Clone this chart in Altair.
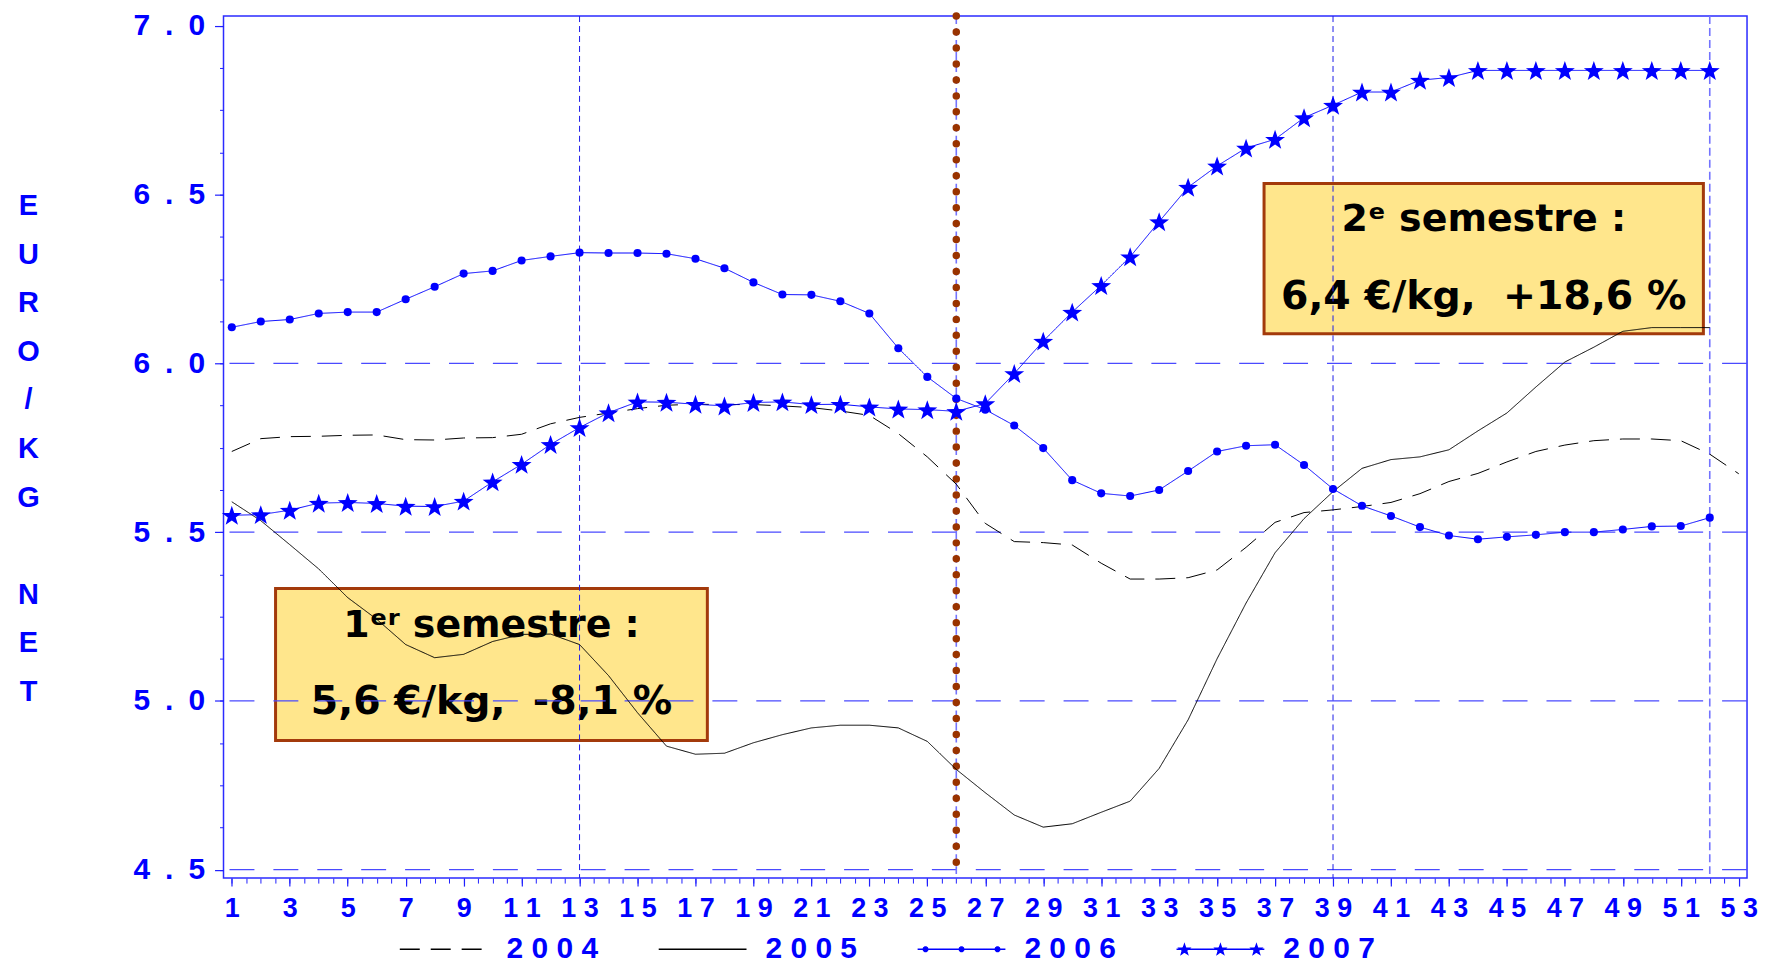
import math
import altair as alt
import pandas as pd

# ---------------- data ----------------
years = ["2004", "2005", "2006", "2007"]
weeks_2004 = list(range(1, 54))
weeks = list(range(1, 53))

prices_2004 = [5.739, 5.777, 5.783, 5.784, 5.787, 5.788, 5.774, 5.773, 5.779, 5.780,
               5.790, 5.821, 5.840, 5.853, 5.866, 5.876, 5.879, 5.878, 5.878, 5.874,
               5.869, 5.859, 5.846, 5.792, 5.723, 5.642, 5.526, 5.472, 5.469, 5.462,
               5.408, 5.361, 5.361, 5.365, 5.388, 5.455, 5.529, 5.558, 5.566, 5.576,
               5.588, 5.614, 5.650, 5.674, 5.708, 5.739, 5.758, 5.771, 5.776, 5.776,
               5.771, 5.731, 5.673]
prices_2005 = [5.590, 5.534, 5.463, 5.391, 5.306, 5.242, 5.167, 5.128, 5.138, 5.176,
               5.197, 5.198, 5.167, 5.075, 4.965, 4.866, 4.842, 4.845, 4.876, 4.900,
               4.920, 4.928, 4.928, 4.920, 4.880, 4.797, 4.728, 4.662, 4.626, 4.636,
               4.670, 4.703, 4.800, 4.944, 5.125, 5.290, 5.439, 5.540, 5.620, 5.689,
               5.715, 5.723, 5.744, 5.800, 5.853, 5.930, 6.004, 6.048, 6.095, 6.106,
               6.106, 6.106]
prices_2006 = [6.107, 6.124, 6.130, 6.148, 6.152, 6.152, 6.190, 6.227, 6.266, 6.274,
               6.305, 6.317, 6.328, 6.327, 6.327, 6.325, 6.310, 6.282, 6.240, 6.204,
               6.203, 6.184, 6.148, 6.045, 5.960, 5.896, 5.863, 5.816, 5.749, 5.654,
               5.615, 5.607, 5.625, 5.681, 5.739, 5.756, 5.759, 5.699, 5.628, 5.578,
               5.548, 5.515, 5.490, 5.479, 5.486, 5.492, 5.500, 5.500, 5.508, 5.517,
               5.518, 5.543]
prices_2007 = [5.550, 5.552, 5.565, 5.586, 5.588, 5.585, 5.577, 5.576, 5.592, 5.649,
               5.701, 5.760, 5.810, 5.854, 5.886, 5.885, 5.879, 5.874, 5.884, 5.886,
               5.878, 5.879, 5.871, 5.865, 5.863, 5.858, 5.881, 5.970, 6.066, 6.152,
               6.231, 6.316, 6.420, 6.522, 6.585, 6.638, 6.664, 6.728, 6.765, 6.804,
               6.804, 6.839, 6.847, 6.868, 6.868, 6.868, 6.868, 6.868, 6.868, 6.868,
               6.868, 6.868]

ref_prices = [4.5, 5.0, 5.5, 6.0]
ref_weeks_quarter = [13, 39]
ref_weeks_other = [26, 52]
mid_year_week = [26]

x_major_ticks = list(range(1, 54, 2))
x_minor_ticks = [w / 2 for w in range(2, 107)]
y_major_ticks = [4.5, 5.0, 5.5, 6.0, 6.5, 7.0]
y_minor_ticks = [4.5 + 0.125 * i for i in range(21)]

note_titles = ["1ᵉʳ semestre :", "2ᵉ semestre :"]
note_values = ["5,6 €/kg,\u00a0 -8,1 %", "6,4 €/kg,\u00a0 +18,6 %"]
note_week = [9.96, 44.2]
note_title_price = [5.222, 6.426]
note_value_price = [4.996, 6.197]
box_week_from = [2.51, 36.62]
box_week_to = [17.41, 51.78]
box_price_from = [4.883, 6.088]
box_price_to = [5.333, 6.533]

# ---------------- styling ----------------
BLUE = "#0000FF"
line_colors = ["#000000", "#000000", "#0000FF", "#0000FF"]
line_dashes = [[20, 11], [1, 0], [1, 0], [1, 0]]


def poly_dot(cx, r, n=10):
    pts = [(cx + r * math.cos(2 * math.pi * i / n), r * math.sin(2 * math.pi * i / n)) for i in range(n)]
    return "M" + " L".join(f"{x:.4f},{y:.4f}" for x, y in pts) + " Z "


def star_path(cx, R):
    pts = []
    for i in range(10):
        ang = math.radians(-90 + 36 * i)
        rad = R if i % 2 == 0 else R * 0.40
        pts.append((cx + rad * math.cos(ang), rad * math.sin(ang) + 0.1 * R))
    return "M" + " L".join(f"{x:.4f},{y:.4f}" for x, y in pts) + " Z "


STAR_SHAPE = star_path(0.0, 1.0).strip()
base_line = "M-1,0 L1,0 "
legend_paths = [
    base_line.strip(),
    base_line.strip(),
    (base_line + "".join(poly_dot(c, 0.055) for c in (-0.82, 0.0, 0.82))).strip(),
    (base_line + "".join(star_path(c, 0.125) for c in (-0.82, 0.0, 0.82))).strip(),
]

rows = []
for yr, wk, vals in zip(years, [weeks_2004, weeks, weeks, weeks],
                        [prices_2004, prices_2005, prices_2006, prices_2007]):
    for w, v in zip(wk, vals):
        rows.append({"year": yr, "week": w, "price": v})
series = pd.DataFrame(rows)

xs = alt.Scale(domain=[0.714, 53.286], nice=False, zero=False)
ys = alt.Scale(domain=[4.475, 7.029], nice=False, zero=False)
stroke_scale = alt.Scale(domain=years, range=line_colors)
dash_scale = alt.Scale(domain=years, range=line_dashes)

LABEL_FONT = "Liberation Sans"

x_axis_main = alt.Axis(
    values=x_major_ticks, format="d", title=None, orient="bottom", domain=False, grid=False,
    tickSize=8, tickColor="#2020FF", tickWidth=1.2,
    labelFont=LABEL_FONT, labelFontWeight="bold", labelFontSize=27, labelColor=BLUE,
    labelPadding=9, labelOverlap=False, labelFlush=False,
    labelExpr="join(split(datum.label, ''), ' ')",
)
x_axis_minor = alt.Axis(
    values=x_minor_ticks, title=None, orient="bottom", domain=False, grid=False,
    labels=False, tickSize=5, tickColor="#2020FF", tickWidth=1,
)
y_axis_main = alt.Axis(
    values=y_major_ticks, format=".1f", orient="left", domain=False, grid=False,
    tickSize=9, tickColor="#2020FF", tickWidth=1.2,
    labelFont=LABEL_FONT, labelFontWeight="bold", labelFontSize=30, labelColor=BLUE,
    labelPadding=10, labelOverlap=False, labelFlush=False,
    labelExpr="replace(datum.label, '.', '\u2002.\u2002')",
    title=["E", "U", "R", "O", "/", "K", "G", "\u2800", "N", "E", "T"],
    titleAngle=0, titleX=-196, titleY=190, titleAlign="center", titleBaseline="middle",
    titleLineHeight=48.7, titleFont=LABEL_FONT, titleFontWeight="bold",
    titleFontSize=29, titleColor=BLUE,
)
y_axis_minor = alt.Axis(
    values=y_minor_ticks, title=None, orient="left", domain=False, grid=False,
    labels=False, tickSize=4, tickColor="#2020FF", tickWidth=1,
)

legend_obj = alt.Legend(
    title=None, orient="none", legendX=175.7, legendY=890.3,
    direction="horizontal", columns=4, columnPadding=57.5, rowPadding=0, padding=0,
    labelOffset=18, symbolSize=7744, symbolStrokeWidth=1.3, symbolOpacity=1,
    labelFont=LABEL_FONT, labelFontWeight="bold", labelFontSize=30, labelColor=BLUE,
    labelExpr="join(split(datum.label, ''), ' ')",
)

# ---------------- layers ----------------
boxes = alt.Chart(pd.DataFrame({
    "w0": box_week_from, "w1": box_week_to, "p0": box_price_from, "p1": box_price_to,
})).mark_rect(fill="#FFE68C", stroke="#A33A0B", strokeWidth=3).encode(
    x=alt.X("w0:Q", scale=xs, axis=None), x2="w1:Q",
    y=alt.Y("p0:Q", scale=ys, axis=None), y2="p1:Q",
)

note_title_layer = alt.Chart(pd.DataFrame({
    "week": note_week, "price": note_title_price, "text": note_titles,
})).mark_text(font="DejaVu Sans", fontWeight="bold", fontSize=38, color="#000000",
              align="center", baseline="middle").encode(
    x=alt.X("week:Q", scale=xs, axis=None),
    y=alt.Y("price:Q", scale=ys, axis=None),
    text="text:N",
)

note_value_layer = alt.Chart(pd.DataFrame({
    "week": note_week, "price": note_value_price, "text": note_values,
})).mark_text(font="DejaVu Sans", fontWeight="bold", fontSize=39.5, color="#000000",
              align="center", baseline="middle").encode(
    x=alt.X("week:Q", scale=xs, axis=None),
    y=alt.Y("price:Q", scale=ys, axis=None),
    text="text:N",
)

hgrid = alt.Chart(pd.DataFrame({"price": ref_prices})).mark_rule(
    color="#4a4aFF", strokeWidth=1.3, strokeDash=[25, 19]
).encode(y=alt.Y("price:Q", scale=ys, axis=y_axis_main))

vgrid_q = alt.Chart(pd.DataFrame({"week": ref_weeks_quarter})).mark_rule(
    color="#1c1ce8", strokeWidth=1, strokeDash=[6, 4]
).encode(x=alt.X("week:Q", scale=xs, axis=x_axis_main))

vgrid_o = alt.Chart(pd.DataFrame({"week": ref_weeks_other})).mark_rule(
    color="#7373FF", strokeWidth=1.6, strokeDash=[8, 4]
).encode(x=alt.X("week:Q", scale=xs, axis=None))

mid_line = alt.Chart(pd.DataFrame({"week": mid_year_week})).mark_rule(
    color="#993300", strokeWidth=7.5, strokeDash=[0, 16], strokeCap="round"
).encode(x=alt.X("week:Q", scale=xs, axis=None))

lines = alt.Chart(series).mark_line(strokeWidth=1).encode(
    x=alt.X("week:Q", scale=xs, axis=x_axis_minor),
    y=alt.Y("price:Q", scale=ys, axis=y_axis_minor),
    stroke=alt.Stroke("year:N", scale=stroke_scale, legend=legend_obj),
    strokeDash=alt.StrokeDash("year:N", scale=dash_scale, legend=legend_obj),
)

dots_2006 = alt.Chart(series).transform_filter(alt.datum.year == "2006").mark_point(
    shape="circle", filled=True, size=66, color=BLUE, opacity=1
).encode(x=alt.X("week:Q", scale=xs, axis=None), y=alt.Y("price:Q", scale=ys, axis=None))

stars_2007 = alt.Chart(series).transform_filter(alt.datum.year == "2007").mark_point(
    shape=STAR_SHAPE, filled=True, size=440, color=BLUE, opacity=1
).encode(x=alt.X("week:Q", scale=xs, axis=None), y=alt.Y("price:Q", scale=ys, axis=None))

legend_layer = alt.Chart(pd.DataFrame({"year": years})).mark_point(
    filled=True, opacity=0, strokeWidth=1.3
).encode(
    x=alt.value(0), y=alt.value(0),
    shape=alt.Shape("year:N", scale=alt.Scale(domain=years, range=legend_paths), legend=legend_obj),
    fill=alt.Fill("year:N", scale=alt.Scale(domain=years, range=line_colors), legend=legend_obj),
    stroke=alt.Stroke("year:N", scale=stroke_scale, legend=legend_obj),
    strokeDash=alt.StrokeDash("year:N", scale=dash_scale, legend=legend_obj),
)

chart = alt.layer(
    boxes, note_title_layer, note_value_layer, hgrid, vgrid_q, vgrid_o, mid_line,
    lines, dots_2006, stars_2007, legend_layer
).resolve_axis(x="independent", y="independent").properties(
    width=1527, height=864,
    autosize=alt.AutoSizeParams(type="none"),
    padding={"left": 216, "top": 7, "right": 12, "bottom": 86},
).configure_view(stroke="#2b2bff", strokeWidth=1.5)

chart.save("out.html", embed_options={"renderer": "svg", "actions": False})
